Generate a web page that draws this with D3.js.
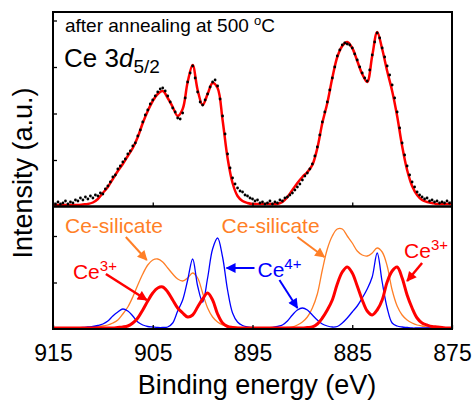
<!DOCTYPE html>
<html>
<head>
<meta charset="utf-8">
<script src="https://cdnjs.cloudflare.com/ajax/libs/d3/7.8.5/d3.min.js"></script>
<style>
	body { margin: 0; background: #fff; }
	text { font-family: "Liberation Sans", Arial, sans-serif; }
</style>
</head>
<body>
<svg id="chart" width="474" height="401"></svg>
<script>
var CTPS = {};
CTPS.demoApp = {};

// binding energy grid (eV), high -> low as on the plot
var energyStart = 915;
var fitStep = 0.5;
var dotStep = 0.25;
var xTicks = [915, 905, 895, 885, 875];
var topTicks = [46, 92.5, 139, 185.5];
var bottomTicks = [45.5, 92];

// top panel : measured spectrum (dots) and envelope fit (red), a.u.
var fitTop = [1,1,1,1,1,1,1.5,2,3.5,7,
	13,19,27,35,42,50,58,69,83,95,
	105,112,115,108,99,90,97,124,141,116,
	101,112,123,118,86,48,23,10,5,3,
	2,2,2,2,2,2,4,9,16,23,
	29,34,41,58,83,103,128,149,160,164,
	158,145,132,124,150,174,157,135,115,90,
	60,36,20,11,6,4,3,2,2,2,
	2];

var dotsTop = [3,2,4,2,3,5,2,4,3,6,
	5,8,6,9,7,10,8,11,10,13,
	12,17,20,24,29,31,37,40,44,47,
	52,55,60,63,70,76,84,91,96,102,
	106,110,114,117,118,115,110,104,98,94,
	88,87,93,108,124,133,140,128,114,104,
	101,106,112,119,124,126,120,107,90,72,
	52,38,28,22,18,15,14,11,10,8,
	7,5,6,3,4,2,3,5,2,4,
	3,6,5,8,9,11,13,16,19,22,
	26,30,33,37,42,50,59,71,84,94,
	104,116,128,139,150,156,161,163,162,161,
	158,152,146,139,133,128,125,136,151,164,
	173,168,158,149,140,131,121,108,94,78,
	63,51,40,31,24,19,14,11,9,7,
	8,5,6,4,5,3,4,3,5,3,
	4];

// bottom panel : fitted components, a.u.
var silicate = [0,0,0,0,0,0,0,0.5,1,1.5,
	2,3,5,8,14,21,31,43,54,63,
	68,69,66,60,54,49,47,50,55,50,
	35,20,11,6,3,1.5,1,0.5,0,0,
	0,0,0,0,0,0,0,0.5,1,3,
	6,11,20,34,58,79,92,99,99,92,
	85,77,73,72,75,80,76,62,38,22,
	13,8,5,3,2,1,0.5,0,0,0,
	0];

var ce3 = [0,0,0,0,0,0,0,0,0,0,
	0,0,0,0.5,1,2,5,10,18,27,
	35,40,41,36,28,20,15,11,13,21,
	29,35,28,14,5,1.5,0.5,0,0,0,
	0,0,0,0,0,0,0,0,0,0,
	0,0.5,1,4,10,18,28,44,56,61,
	55,42,28,17,13,18,28,46,57,61,
	50,33,20,10,5,3,1.5,1,0.5,0,
	0];

var ce4 = [0,0,0,0,0,0.3,0.5,1,1.5,2.5,
	4,7,12,16,19,17,12,6,3,1.5,
	1,0.5,0.5,1,5,17,28,48,69,42,
	26,50,79,90,71,38,15,6,2.5,1,
	0.5,0,0,0,0.5,1.5,3,7,13,18,
	20,18,13,8,4,2,1,1.5,5,10,
	16,22,30,39,51,75,46,20,5,2,
	1,0.5,0,0,0,0,0,0,0,0,
	0];

var colours = { fit: "#ff0000", silicate: "#ff7f27", ce3: "#ff0000", ce4: "#0000ff" };

CTPS.demoApp.draw = function(){
	var svg = d3.select("#chart");
	var left = 53, right = 452, top = 12, mid = 206.5, bottom = 329;

	var x = d3.scaleLinear().domain([915, 875]).range([left, right]);
	var yTop = d3.scaleLinear().domain([0, 194]).range([206, top]);
	var yBot = d3.scaleLinear().domain([0, 121]).range([328, 207]);

	var toPoints = function(values, step){
		return values.map(function(v, i){ return { e: energyStart - i * step, v: v }; });
	};

	var defs = svg.append("defs");
	defs.append("clipPath").attr("id", "clipTop").append("rect")
		.attr("x", left).attr("y", top).attr("width", right - left).attr("height", mid - top);
	defs.append("clipPath").attr("id", "clipBot").append("rect")
		.attr("x", left).attr("y", mid).attr("width", right - left).attr("height", bottom - mid);

	// arrow heads
	defs.selectAll("marker").data(["silicate", "ce3", "ce4"]).enter().append("marker")
		.attr("id", function(d){ return "head-" + d; })
		.attr("viewBox", "0 0 10 10").attr("refX", 9).attr("refY", 5)
		.attr("markerUnits", "userSpaceOnUse")
		.attr("markerWidth", 12).attr("markerHeight", 10)
		.attr("orient", "auto")
		.append("path").attr("d", "M0,0 L10,5 L0,10 z")
		.attr("fill", function(d){ return colours[d]; });

	// ---- top panel : fit first, measured dots on top of it
	var gTop = svg.append("g").attr("clip-path", "url(#clipTop)");
	var lineTop = d3.line().curve(d3.curveCatmullRom)
		.x(function(d){ return x(d.e); }).y(function(d){ return yTop(d.v); });
	gTop.append("path").datum(toPoints(fitTop, fitStep))
		.attr("d", lineTop).attr("fill", "none")
		.attr("stroke", colours.fit).attr("stroke-width", 2.5);

	gTop.selectAll("circle").data(toPoints(dotsTop, dotStep)).enter().append("circle")
		.attr("cx", function(d){ return x(d.e); })
		.attr("cy", function(d){ return yTop(d.v); })
		.attr("r", 1.4).attr("fill", "#000");

	// ---- bottom panel
	var gBot = svg.append("g").attr("clip-path", "url(#clipBot)");
	var lineBot = d3.line().curve(d3.curveCatmullRom)
		.x(function(d){ return x(d.e); }).y(function(d){ return yBot(d.v); });
	[
		{ values: silicate, colour: colours.silicate, width: 1.3 },
		{ values: ce4, colour: colours.ce4, width: 1.3 },
		{ values: ce3, colour: colours.ce3, width: 3 }
	].forEach(function(s){
		gBot.append("path").datum(toPoints(s.values, fitStep))
			.attr("d", lineBot).attr("fill", "none")
			.attr("stroke", s.colour).attr("stroke-width", s.width);
	});

	// ---- axes (inward ticks)
	var tickStyle = function(g){
		g.select(".domain").remove();
		g.selectAll("line").attr("stroke", "#000").attr("stroke-width", 1.3);
	};
	svg.append("g").attr("transform", "translate(" + left + ",0)")
		.call(d3.axisLeft(yTop).tickValues(topTicks).tickSize(-4).tickFormat(""))
		.call(tickStyle);
	svg.append("g").attr("transform", "translate(" + left + ",0)")
		.call(d3.axisLeft(yBot).tickValues(bottomTicks).tickSize(-4).tickFormat(""))
		.call(tickStyle);
	svg.append("g").attr("transform", "translate(0," + mid + ")")
		.call(d3.axisBottom(x).tickValues([905, 895, 885]).tickSize(-4).tickFormat(""))
		.call(tickStyle);
	var xAxis = svg.append("g").attr("transform", "translate(0," + bottom + ")")
		.call(d3.axisBottom(x).tickValues(xTicks).tickSize(-4).tickPadding(16).tickFormat(d3.format("d")))
		.call(tickStyle);
	xAxis.selectAll("text").attr("font-size", 23).attr("fill", "#000")
		.attr("font-family", "Liberation Sans, Arial, sans-serif");

	// frames
	svg.append("rect").attr("x", left).attr("y", top).attr("width", right - left).attr("height", mid - top)
		.attr("fill", "none").attr("stroke", "#000").attr("stroke-width", 2);
	svg.append("rect").attr("x", left).attr("y", mid).attr("width", right - left).attr("height", bottom - mid)
		.attr("fill", "none").attr("stroke", "#000").attr("stroke-width", 2);

	// axis titles
	svg.append("text").attr("x", 257).attr("y", 394).attr("text-anchor", "middle")
		.attr("font-size", 27).text("Binding energy (eV)");
	svg.append("text").attr("transform", "translate(32,173) rotate(-90)").attr("text-anchor", "middle")
		.attr("font-size", 27).text("Intensity (a.u.)");

	// panel labels
	var t1 = svg.append("text").attr("x", 65).attr("y", 32).attr("font-size", 19);
	t1.append("tspan").text("after annealing at 500 ");
	t1.append("tspan").attr("font-size", 13).attr("dy", -7).text("o");
	t1.append("tspan").attr("dy", 7).text("C");

	var t2 = svg.append("text").attr("x", 64).attr("y", 67).attr("font-size", 26);
	t2.append("tspan").text("Ce 3");
	t2.append("tspan").attr("font-style", "italic").text("d");
	t2.append("tspan").attr("font-size", 19).attr("dy", 6).text("5/2");

	// component labels, placed in data coordinates of the bottom panel
	var labels = [
		{ text: "Ce-silicate", sup: "", e: 913.8, v: 95, c: "silicate" },
		{ text: "Ce-silicate", sup: "", e: 898.1, v: 95, c: "silicate" },
		{ text: "Ce", sup: "3+", e: 913.0, v: 49, c: "ce3" },
		{ text: "Ce", sup: "3+", e: 879.8, v: 70, c: "ce3" },
		{ text: "Ce", sup: "4+", e: 894.5, v: 51, c: "ce4" }
	];
	labels.forEach(function(l){
		var t = svg.append("text").attr("x", x(l.e)).attr("y", yBot(l.v))
			.attr("font-size", 21).attr("fill", colours[l.c]);
		t.append("tspan").text(l.text);
		if (l.sup) t.append("tspan").attr("font-size", 15).attr("dy", -8).text(l.sup);
	});

	var arrows = [
		{ e0: 907.7, v0: 91, e1: 905.6, v1: 68, c: "silicate", w: 2 },
		{ e0: 890.5, v0: 91, e1: 887.8, v1: 71, c: "silicate", w: 2 },
		{ e0: 909.7, v0: 54, e1: 905.6, v1: 28, c: "ce3", w: 2.5 },
		{ e0: 878.0, v0: 65, e1: 879.5, v1: 47, c: "ce3", w: 2.5 },
		{ e0: 894.8, v0: 60, e1: 897.6, v1: 60, c: "ce4", w: 2 },
		{ e0: 892.3, v0: 48, e1: 890.5, v1: 20, c: "ce4", w: 2 }
	];
	svg.selectAll("line.arrow").data(arrows).enter().append("line")
		.attr("class", "arrow")
		.attr("x1", function(d){ return x(d.e0); }).attr("y1", function(d){ return yBot(d.v0); })
		.attr("x2", function(d){ return x(d.e1); }).attr("y2", function(d){ return yBot(d.v1); })
		.attr("stroke", function(d){ return colours[d.c]; })
		.attr("stroke-width", function(d){ return d.w; })
		.attr("marker-end", function(d){ return "url(#head-" + d.c + ")"; });
};

CTPS.demoApp.draw();
</script>
</body>
</html>
